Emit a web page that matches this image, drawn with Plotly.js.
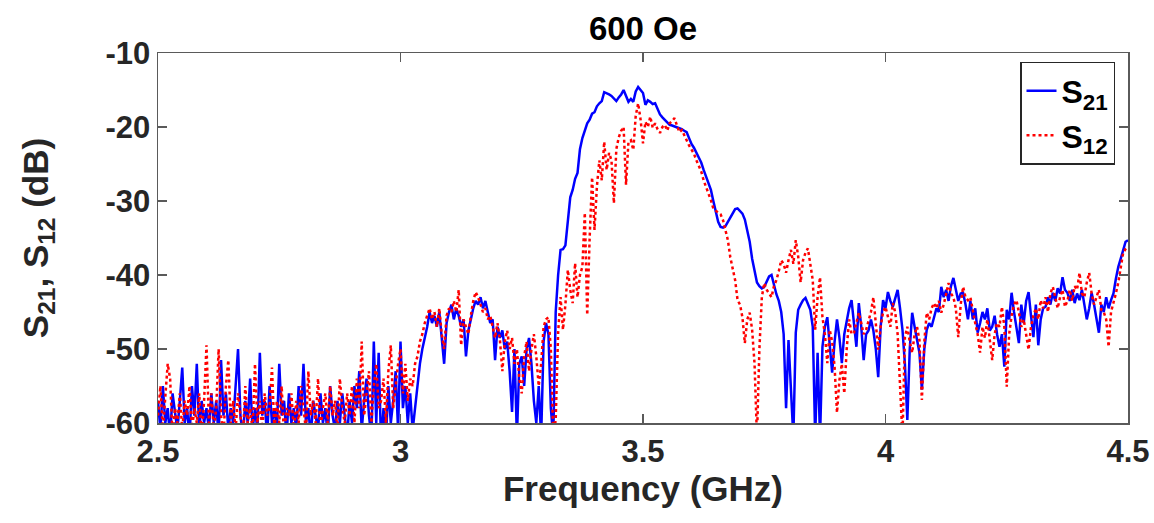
<!DOCTYPE html>
<html>
<head>
<meta charset="utf-8">
<script src="https://cdn.plot.ly/plotly-3.0.1.min.js"></script>
<style>html,body{margin:0;padding:0;background:#fff;}#chart{width:1154px;height:523px;}</style>
</head>
<body>
<div id="chart"></div>
<script>
// Frequency sampling (GHz)
const freqStart = 2.5;
const freqStep = 0.005;

// S21 (dB)
const s21 = [
-57,-61,-55,-60,-58,-62,-56,-59,-61,-57,-52.5,-60,-58,-62,-55,-59,-52,-61,-57,-60,
-58,-61,-56,-60,-57,-62,-51.5,-59,-56,-61,-58,-60,-55,-50,-59,-62,-57,-60,-54,-61,
-58,-61,-50.5,-59,-57,-62,-55,-60,-58,-61,-52,-59,-57,-62,-56,-60,-58,-61,-55,-59,
-52,-60,-58,-62,-57,-59,-61,-56,-60,-58,-62,-55,-59,-61,-57,-60,-56,-59,-62,-57,
-60,-55,-58,-53,-61,-57,-54,-59,-62,-49,-60,-50.5,-63,-58,-62,-55,-60,-57,-53,-61,
-49,-58,-55,-60,-56,-61,-58,-55,-52,-50,-48.5,-47,-45,-46.5,-45.5,-47,-45,-49,-52,-46.5,
-45,-44,-46,-44.5,-45.5,-47,-46,-51,-47.5,-46,-44.5,-43.5,-44,-43,-44.5,-43.5,-45,-46.5,-46,-51.5,
-47,-48.5,-47.5,-50,-49,-53,-58.5,-50,-62,-52,-51,-55,-50,-48.5,-52,-57,-60,-55,-62,-49,
-46.5,-48,-58,-62,-45,-40,-36.6,-36.5,-36,-33,-29.5,-28.5,-27,-26.2,-23,-21.5,-20.5,-19.5,-19,-18.2,
-18,-17.2,-16.8,-16.5,-15.3,-15.4,-15.6,-15.8,-16.2,-16.5,-16,-15.6,-15,-15.8,-16.6,-16.2,-16.6,-15.2,-14.6,-15,
-15.4,-17,-16.4,-16.6,-16.9,-16.8,-17.6,-18.3,-18.7,-19,-19.4,-19.7,-19.8,-19.9,-20,-20.1,-20.3,-20.5,-20.7,-21.5,
-22.3,-22.8,-23.4,-24,-24.8,-25.8,-26.7,-27.6,-28.5,-30,-31.6,-32.8,-33.5,-33.6,-33.4,-32.8,-32.2,-31.6,-31.1,-31,
-31.3,-31.7,-32.5,-33.8,-35.5,-37.8,-39.5,-41,-41.5,-41.8,-41.6,-41,-40.2,-40,-41.5,-42.6,-43.5,-45,-48,-58,
-48.8,-55,-62,-47.8,-44.7,-44,-43.4,-43.1,-43.8,-44.7,-47,-62,-50.5,-62,-49.7,-47,-45.7,-49,-53.2,-49,
-46,-48.5,-51.9,-48,-46,-44.5,-43.4,-47,-49.7,-43.8,-47,-51.5,-48,-47.5,-46,-47.5,-50,-53.8,-47,-43.4,
-44.5,-42.3,-43.5,-44.3,-43,-42,-44.5,-47.4,-52,-59.6,-50,-45.1,-47,-48.8,-50.5,-55.5,-50,-47.4,-46.5,-47,
-45.7,-44.5,-45,-41.6,-43,-42,-43.5,-41.5,-40.4,-42,-43.5,-42.5,-42.4,-44,-46,-43.5,-46,-44.5,-47.8,-46.5,
-45,-46,-44.5,-47.5,-47,-45.5,-48,-49.7,-48,-52.4,-44.7,-46,-42.4,-45,-47,-49.2,-44,-46.5,-43.5,-42.3,
-45.5,-48.4,-44,-49.5,-46,-44.5,-44.3,-43,-44,-42.4,-43.5,-41.8,-42.5,-40.3,-42,-42.4,-43.5,-42,-43.8,-42.5,
-43.4,-42,-44,-46,-44.5,-42.4,-44,-45.7,-47.8,-44,-45,-43,-44.5,-43.4,-42.5,-40.5,-38.9,-37.8,-36.6,-35.5,-35.3
];

// S12 (dB)
const s12 = [
-59,-55,-61,-57,-52,-54,-62,-58,-60,-56,-61,-57,-59,-55,-61,-58,-60,-56,-62,-57,
-49.5,-60,-56,-61,-58,-50,-59,-62,-55,-51.5,-60,-57,-61,-56,-59,-62,-55,-60,-58,-61,
-52,-60,-57,-61,-56,-59,-58,-52.5,-61,-57,-60,-55,-62,-58,-59,-56,-61,-57,-60,-55,
-58,-61,-53,-59,-57,-60,-54,-61,-58,-56,-60,-55,-59,-57,-61,-54,-58,-60,-56,-59,
-55,-60,-54,-58,-49,-59,-56,-53,-60,-55,-52,-58,-57,-54,-60,-53,-49.5,-58,-55,-52,
-50,-56,-52,-57,-54,-55,-52,-51,-49,-48,-46.5,-45.5,-44.5,-46,-45,-47,-44.5,-48,-50,-45.5,
-44.5,-45,-43.5,-45,-42,-49.5,-46,-47,-48,-45.5,-43.5,-42.3,-43,-44,-45,-44.5,-46,-45.5,-47,-48.5,
-46.5,-48.8,-53,-49,-47.5,-50,-48.5,-52,-50,-54,-56,-51,-49,-53,-50,-48,-51,-55,-52,-47,
-46,-45.7,-50,-62,-59.6,-47.8,-43,-47.4,-44,-39.3,-42,-43.8,-38.4,-43,-40,-38.9,-31.6,-45.4,-35,-26.8,
-33.9,-28,-24.5,-27.2,-22,-25.8,-23.5,-24.5,-30.3,-23,-21.4,-20.5,-20,-27.8,-22,-21.8,-23.1,-18.5,-16.8,-19,
-22.2,-19.3,-20,-18.6,-20.1,-19.5,-20.3,-20.8,-20,-19.7,-20.5,-19.5,-19.2,-18.8,-19.8,-20.7,-20.4,-21,-21.8,-22.5,
-23,-23.6,-24.5,-25.2,-26,-27.2,-28,-29,-29.9,-31,-31.3,-31.6,-31.8,-32.6,-34,-35.3,-37.6,-39,-40.7,-43.4,
-44,-45.7,-49.2,-46,-45.1,-47.4,-52,-62,-50,-43,-41.1,-42,-42.5,-43,-41.5,-40.7,-39.5,-38,-38.5,-39.7,
-38,-36.6,-38.5,-35.3,-37.5,-41,-38,-37,-36.4,-38.5,-40.7,-47.4,-43,-40.3,-45.7,-48,-51.9,-47.4,-49,-52.4,
-58.6,-54.2,-52,-56,-50,-46,-48,-47.8,-46.5,-45.1,-46.5,-48,-47.4,-46,-45,-43,-46.5,-50.1,-47,-45,
-44.3,-45.5,-47,-43.8,-45,-48,-55.1,-62,-48.4,-47,-49,-50.5,-48,-47,-48.8,-56.9,-49,-45.1,-46,-44.5,
-43.8,-44.5,-43.5,-45.1,-44,-42.5,-41.1,-42.5,-43,-44.5,-48.4,-44,-41.6,-43,-43.4,-43,-45,-46.5,-48,-50.5,
-47,-48.5,-46,-49,-51.5,-48,-46.5,-47,-44.3,-47,-55.1,-48,-45.5,-44,-43.4,-45,-47,-46,-48,-50.1,
-47,-45.5,-44.5,-46,-43.4,-44.5,-43,-45,-42.5,-41.6,-43,-44.5,-43,-42,-44.3,-43.5,-42,-43.5,-41.5,-42,
-39.7,-42.5,-43,-41,-39.7,-42.5,-44,-43,-42,-44.7,-45,-46,-49.7,-45,-43.8,-42.5,-41,-39,-37,-36.5,-36.2
];

// Tick labels
const xTicks = [2.5, 3, 3.5, 4, 4.5];
const xTickText = ['2.5', '3', '3.5', '4', '4.5'];
const yTicks = [-60, -50, -40, -30, -20, -10];
const yTickText = ['-60', '-50', '-40', '-30', '-20', '-10'];

const freq = s21.map((_, i) => +(freqStart + i * freqStep).toFixed(4));

const FONT = 'Liberation Sans, Arial, Helvetica, sans-serif';
const INK = '#262626';
const AXC = '#5a5a5a';

const traces = [
  {x: freq, y: s21, type: 'scatter', mode: 'lines', name: 'S<sub>21</sub>',
   line: {color: '#0000ff', width: 2.5}},
  {x: freq, y: s12, type: 'scatter', mode: 'lines', name: 'S<sub>12</sub>',
   line: {color: '#ff0000', width: 2.5, dash: 'dot'}}
];

const axisCommon = {
  showline: true, linecolor: AXC, linewidth: 1.5, mirror: 'ticks',
  ticks: 'inside', ticklen: 9, tickwidth: 1.5, tickcolor: AXC,
  showgrid: false, zeroline: false,
  tickfont: {family: FONT, size: 31, color: INK, weight: 'bold'}
};

const layout = {
  width: 1154, height: 523,
  margin: {l: 158, r: 26, t: 53, b: 100, pad: 0},
  paper_bgcolor: '#ffffff', plot_bgcolor: '#ffffff',
  font: {family: FONT, color: INK},
  showlegend: true,
  title: {text: '600 Oe', xref: 'paper', x: 0.5, xanchor: 'center',
          yref: 'container', y: 1 - 28/523, yanchor: 'middle',
          font: {family: FONT, size: 33, color: '#000', weight: 'bold'}},
  xaxis: Object.assign({}, axisCommon, {
    range: [2.5, 4.5], tickvals: xTicks, ticktext: xTickText,
    title: {text: 'Frequency (GHz)', standoff: 8,
            font: {family: FONT, size: 35, color: INK, weight: 'bold'}}
  }),
  yaxis: Object.assign({}, axisCommon, {
    range: [-60, -10], tickvals: yTicks, ticktext: yTickText,
    title: {text: 'S<sub>21</sub>, S<sub>12</sub> (dB)', standoff: 46,
            font: {family: FONT, size: 35, color: INK, weight: 'bold'}}
  }),
  legend: {x: 0.9866, xanchor: 'right', y: 0.976, yanchor: 'top',
           bgcolor: '#ffffff', bordercolor: INK, borderwidth: 1.5,
           font: {family: FONT, size: 32, color: '#000', weight: 'bold'},
           tracegroupgap: 0, itemwidth: 30}
};

Plotly.newPlot('chart', traces, layout, {staticPlot: true, displayModeBar: false});
</script>
</body>
</html>
